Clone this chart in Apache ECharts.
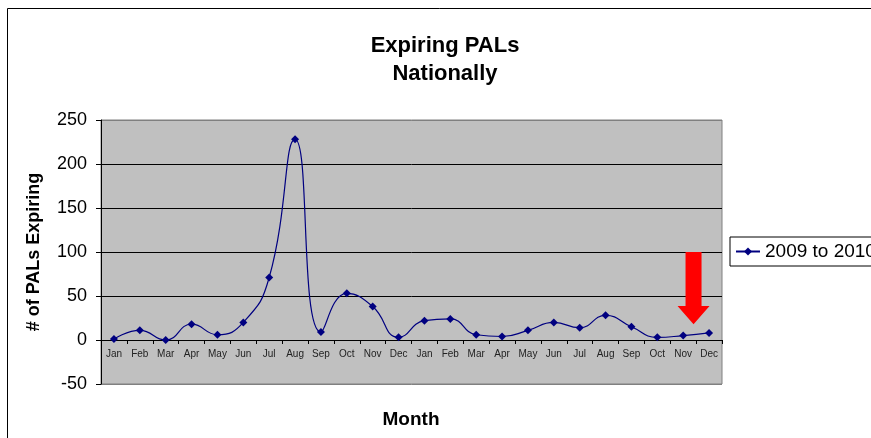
<!DOCTYPE html>
<html>
<head>
<meta charset="utf-8">
<script src="https://cdn.jsdelivr.net/npm/echarts@6/dist/echarts.min.js"></script>
<style>
html, body { margin: 0; padding: 0; background: #fff; }
#main { width: 871px; height: 438px; }
</style>
</head>
<body>
<div id="main"></div>
<script>
// data
var months = ['Jan','Feb','Mar','Apr','May','Jun','Jul','Aug','Sep','Oct','Nov','Dec',
              'Jan','Feb','Mar','Apr','May','Jun','Jul','Aug','Sep','Oct','Nov','Dec'];
var expiring = [1, 11, 0, 18, 6, 20, 71, 228, 9, 53, 38, 3,
                22, 24, 6, 4, 11, 20, 14, 28, 15, 3, 5, 8];
var seriesName = '2009 to 2010';
var yMin = -50, yMax = 250, yStep = 50;

var myChart = echarts.init(document.getElementById('main'));
var option = {
    animation: false,
    textStyle: { fontFamily: 'Liberation Sans, Arial, sans-serif' },
    title: [{
        text: 'Expiring PALs\nNationally',
        left: 440,
        textAlign: 'center',
        top: 27,
        textStyle: { fontSize: 22, fontWeight: 'bold', color: '#000', lineHeight: 28 }
    }, {
        text: 'Month',
        left: 406,
        textAlign: 'center',
        top: 405,
        textStyle: { fontSize: 19, fontWeight: 'bold', color: '#000' }
    }],
    legend: {
        left: 730,
        top: 237,
        padding: [5, 5],
        borderColor: '#000',
        borderWidth: 1,
        backgroundColor: '#fff',
        itemWidth: 24,
        itemHeight: 10,
        data: [seriesName],
        textStyle: { fontSize: 19, color: '#000' }
    },
    grid: {
        show: true,
        left: 101,
        right: 149,
        top: 120,
        bottom: 54,
        backgroundColor: '#c0c0c0',
        borderColor: '#808080',
        borderWidth: 1
    },
    xAxis: {
        type: 'category',
        data: months,
        boundaryGap: true,
        axisLine: { onZero: true, lineStyle: { color: '#000', width: 1 } },
        axisTick: { show: true, length: 4, inside: false, lineStyle: { color: '#000' } },
        // labels sit just under the zero line, inside the plot area
        axisLabel: { interval: 0, fontSize: 10, color: '#222', margin: -35 },
        splitLine: { show: false }
    },
    yAxis: {
        type: 'value',
        min: yMin,
        max: yMax,
        interval: yStep,
        name: '# of PALs Expiring',
        nameLocation: 'middle',
        nameGap: 58,
        nameTextStyle: { fontSize: 18, fontWeight: 'bold', color: '#000' },
        axisLine: { show: true, lineStyle: { color: '#000', width: 1 } },
        axisTick: { show: true, length: 5, lineStyle: { color: '#000' } },
        axisLabel: { fontSize: 18, color: '#000', margin: 14 },
        splitLine: {
            show: true,
            lineStyle: {
                color: ['#808080', '#000', '#000', '#000', '#000', '#000', '#808080'],
                width: 1
            }
        }
    },
    series: [{
        name: seriesName,
        type: 'line',
        data: expiring,
        smooth: 0.5,
        symbol: 'diamond',
        symbolSize: 8,
        showAllSymbol: true,
        lineStyle: { color: '#000080', width: 1.2 },
        itemStyle: { color: '#000080' }
    }]
};
if (option && typeof option === "object") {
    myChart.setOption(option, true);
}

// red arrow pointing down between the last Nov and Dec
var nov = myChart.convertToPixel({ gridIndex: 0 }, [22, 100]);
var dec = myChart.convertToPixel({ gridIndex: 0 }, [23, 100]);
var cx = nov[0] + 0.4 * (dec[0] - nov[0]);
var yTop = nov[1];
var yHead = myChart.convertToPixel({ gridIndex: 0 }, [22, 38.5])[1];
var yTip = myChart.convertToPixel({ gridIndex: 0 }, [22, 18])[1];
myChart.setOption({
    graphic: [{
        type: 'rect',
        silent: true,
        shape: { x: 7.5, y: 8.5, width: 900, height: 500 },
        style: { fill: null, stroke: '#000', lineWidth: 1 },
        z: 100
    }, {
        type: 'polygon',
        silent: true,
        shape: {
            points: [
                [cx - 8, yTop], [cx + 8, yTop], [cx + 8, yHead], [cx + 16, yHead],
                [cx, yTip], [cx - 16, yHead], [cx - 8, yHead]
            ]
        },
        style: { fill: '#ff0000' },
        z: 100
    }]
});
</script>
</body>
</html>
